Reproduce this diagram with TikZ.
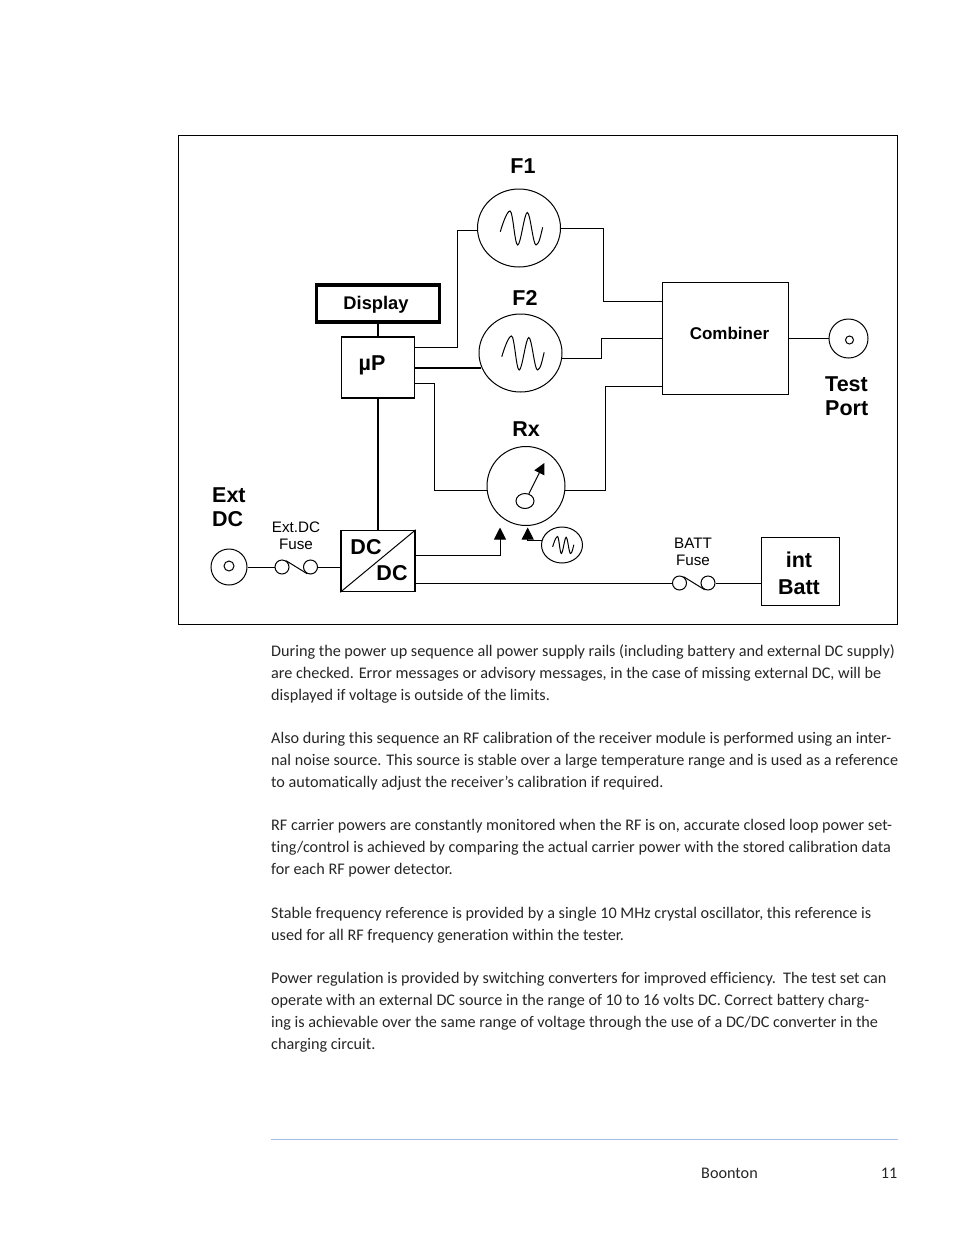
\documentclass[tikz,border=0pt]{standalone}
\usepackage{fontspec}
\setmainfont{Liberation Sans}
\newfontfamily\bodyfont[Ligatures=NoCommon]{Carlito}
\usetikzlibrary{arrows.meta,positioning,calc,shapes.geometric}
\definecolor{ink}{HTML}{000000}
\definecolor{footrule}{HTML}{A3BEE6}
\tikzset{
  wire/.style={draw=ink,line width=1pt},
  heavywire/.style={draw=ink,line width=2pt},
  dial/.style={ellipse,draw=ink,line width=1pt,inner sep=0pt,minimum width=#1},
  unitbox/.style={rectangle,draw=ink,line width=1pt,inner sep=0pt,align=center},
  fuseend/.style={circle,draw=ink,line width=1pt,inner sep=0pt,minimum size=14pt},
  biglabel/.style={font=\fontsize{21.5}{24}\selectfont\bfseries,align=left,inner sep=0pt},
  smalllabel/.style={font=\fontsize{15.2}{17}\selectfont,align=center,inner sep=0pt},
  para/.style={font=\fontsize{16.2}{21.8}\bodyfont,align=left,inner sep=0pt,anchor=north west,text=black!85},
  feed/.style={-{Triangle[length=12pt,width=12pt]},wire},
}
\begin{document}
\begin{tikzpicture}[x=1pt,y=-1pt]
\useasboundingbox (0,0) rectangle (954,1235);
% --- helper: sine trace inside a source ---------------------------------
\def\trace#1#2#3{%
  \begin{scope}[shift={(#1,#2)},scale=#3]
  \draw[draw=ink,line width=1pt] (-18.7,3.7) .. controls (-16.5,-4) and (-12,-17) .. (-9,-17)
    .. controls (-6,-17) and (-4.3,17) .. (-1.3,17) .. controls (1.7,17) and (5.3,-15.5) .. (8.3,-15.5)
    .. controls (11.3,-15.5) and (14,17) .. (17,17) .. controls (20,17) and (22,6) .. (23.7,-0.7);
  \end{scope}}
% --- helper: fuse, two contacts and a link ------------------------------
\def\fuse#1#2#3{%
  \node[fuseend] (#1a) at (#2,#3) {};
  \node[fuseend] (#1b) at (#2+28.5,#3) {};
  \draw[wire] (#1a.57) -- (#1b.243);}
% frame
\node[rectangle,draw=ink,line width=1pt,minimum width=719pt,minimum height=489pt,inner sep=0pt] (frame) at (537.5,379.5) {};
% sources and receiver
\node[dial=83pt,minimum height=78pt] (f1) at (519,228) {};
\node[dial=83pt,minimum height=78pt] (f2) at (520.5,353) {};
\node[dial=78pt,minimum height=79pt] (rx) at (526,486) {};
\node[dial=41pt,minimum height=36pt] (tone) at (562,545) {};
\node[dial=18pt,minimum height=15pt] (pivot) at (525,501) {};
\trace{519}{228}{1}
\trace{520.5}{353}{1}
\trace{562}{545}{0.5}
% boxes
\node[unitbox,line width=3.5pt,minimum width=123pt,minimum height=37pt] (display) at (378,303.5) {};
\node[unitbox,line width=1.5pt,minimum width=73pt,minimum height=61pt] (up) at (378,367.5) {};
\node[unitbox,minimum width=126pt,minimum height=112pt] (combiner) at (725,338.5) {};
\node[unitbox,line width=1.5pt,minimum width=74pt,minimum height=61pt] (dcdc) at (378,561) {};
\node[unitbox,minimum width=78pt,minimum height=68pt] (batt) at (800,571) {};
% connectors
\node[dial=36pt,minimum height=36pt] (extdc) at (229,567) {};
\node[dial=10pt,minimum height=10pt] (extpin) at (229,566) {};
\node[dial=39pt,minimum height=39pt] (testport) at (848.5,338.5) {};
\node[dial=8pt,minimum height=8pt] (testpin) at (849.5,340) {};
\fuse{extfuse}{282}{567}
\fuse{battfuse}{679.5}{583}
% free ends
\coordinate (rxleft) at (500,527.5);
\coordinate (rxright) at (527.7,527.5);
\coordinate (needle) at (544.3,463);
% wiring
\draw[heavywire] (display.south) -- (up.north);
\draw[heavywire] (up.south) -- (dcdc.north);
\draw[heavywire] (up.east) -- (up.east -| f2.199);
\draw[wire] ([yshift=-11pt]up.north east) -- ++(42,0) |- (f1.184);
\draw[wire] ([yshift=15pt]up.south east) -- ++(19.5,0) |- (rx.187);
\draw[wire] (f1.east) -- ++(42,0) |- ([yshift=-19pt]combiner.north west);
\draw[wire] (f2.-8) -- ++(39,0) |- (combiner.west);
\draw[wire] (rx.-7) -- ++(40,0) |- ([yshift=9pt]combiner.south west);
\draw[wire] (combiner.east) -- (testport.west);
\draw[wire] (extdc.east) -- (extfusea.west);
\draw[wire] (extfuseb.east) -- (extfuseb.east -| dcdc.west);
\draw[wire] (dcdc.south west) -- (dcdc.north east);
\draw[feed] ([yshift=6pt]dcdc.east) -| (rxleft);
\draw[feed] (tone.168) -| (rxright);
\draw[wire] (battfusea.west -| dcdc.east) -- (battfusea.west);
\draw[wire] (battfuseb.east) -- (battfuseb.east -| batt.west);
\draw[-{Triangle[length=11pt,width=11pt]},wire] (pivot.62) -- (needle);
% labels
\foreach \lab/\x/\y/\txt in {lf1/523/166.5/F1, lf2/525/297.5/F2, lrx/526/429.5/Rx, lup/372/365/µP, ldca/366/547/DC, ldcb/392/573/DC} {
  \node[biglabel] (\lab) at (\x,\y) {\txt};
}
\node[biglabel,anchor=west] (lext) at (212,507) {Ext\\DC};
\node[biglabel,anchor=west] (ltest) at (825,396) {Test\\Port};
\node[biglabel,align=center,font=\fontsize{21.5}{27}\selectfont\bfseries] (lbatt) at (799,573.5) {int\\Batt};
\node[font=\fontsize{18.3}{20}\selectfont\bfseries,inner sep=0pt] (ldisplay) at (376,305) {Display};
\node[font=\fontsize{17}{20}\selectfont\bfseries,inner sep=0pt] (lcomb) at (729.5,333) {Combiner};
\node[smalllabel] (lextfuse) at (296,536) {Ext.DC\\Fuse};
\node[smalllabel] (lbattfuse) at (693,552) {BATT\\Fuse};
% page text
\node[para] (p1) at (271,644.5) {During the power up sequence all power supply rails (including battery and external DC supply)\\are checked. Error messages or advisory messages, in the case of missing external DC, will be\\displayed if voltage is outside of the limits.};
\node[para] (p2) at (271,732.5) {Also during this sequence an RF calibration of the receiver module is performed using an inter-\\nal noise source. This source is stable over a large temperature range and is used as a reference\\to automatically adjust the receiver’s calibration if required.};
\node[para] (p3) at (271,819.5) {RF carrier powers are constantly monitored when the RF is on, accurate closed loop power set-\\ting/control is achieved by comparing the actual carrier power with the stored calibration data\\for each RF power detector.};
\node[para] (p4) at (271,907.5) {Stable frequency reference is provided by a single 10 MHz crystal oscillator, this reference is\\used for all RF frequency generation within the tester.};
\node[para] (p5) at (271,972.5) {Power regulation is provided by switching converters for improved efficiency.\ \ The test set can\\operate with an external DC source in the range of 10 to 16 volts DC. Correct battery charg-\\ing is achievable over the same range of voltage through the use of a DC/DC converter in the\\charging circuit.};
% footer
\coordinate (ruleleft) at (271,1139.5);
\coordinate (ruleright) at (898,1139.5);
\draw[footrule,line width=1pt] (ruleleft) -- (ruleright);
\node[para,anchor=base west] (foot) at (701,1178) {Boonton};
\node[para,anchor=base east] (page) at (897.5,1178) {11};
\end{tikzpicture}
\end{document}
